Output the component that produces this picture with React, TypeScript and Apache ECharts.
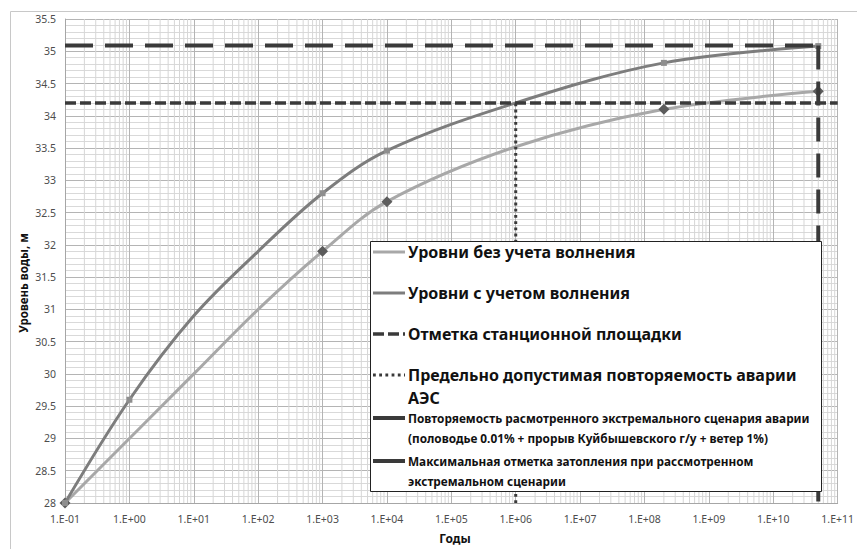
import React, { useEffect, useRef } from "react";
import * as echarts from "echarts";

// ---- data ----
// marked points (Excel markers) and a few unmarked points
const dryYears = [0.1, 10, 100, 1e3, 1e4, 1e6, 2e8, 5e10];
const dryLevels = [28, 30.0, 31.0, 31.9, 32.67, 33.52, 34.1, 34.38];
const dryMarked = [true, false, false, true, true, false, true, true];
const waveYears = [0.1, 1, 10, 100, 1e3, 1e4, 1e6, 2e8, 5e10];
const waveLevels = [28, 29.6, 30.9, 31.9, 32.8, 33.46, 34.2, 34.82, 35.08];
const waveMarked = [true, true, false, false, true, true, false, true, true];
const platformLevel = 34.2;
const maxFloodLevel = 35.09;
const allowedRecurrence = 1e6;
const scenarioRecurrence = 5e10;
const xMin = 0.1;
const xMax = 1e11;
const yMin = 28;
const yMax = 35.5;
const decadeStarts = [0.1, 1, 10, 100, 1e3, 1e4, 1e5, 1e6, 1e7, 1e8, 1e9, 1e10];
const minorMultipliers = [2, 3, 4, 5, 6, 7, 8, 9];

const legendLabels = [
  "Уровни без учета волнения",
  "Уровни с учетом волнения",
  "Отметка станционной площадки",
  "Предельно допустимая повторяемость аварии",
  "АЭС",
  "Повторяемость расмотренного экстремального сценария аварии",
  "(половодье 0.01% + прорыв Куйбышевского г/у + ветер 1%)",
  "Максимальная отметка затопления при рассмотренном",
  "экстремальном сценарии",
];

const FONT = "'Noto Sans', 'Open Sans', sans-serif";
const DARK = "#3a3a3a";

function fmtExp(v: number) {
  const e = Math.round(Math.log10(v));
  const s = e < 0 ? "-" : "+";
  const a = Math.abs(e);
  return "1.E" + s + (a < 10 ? "0" + a : "" + a);
}

export default function App() {
  const ref = useRef<HTMLDivElement>(null);
  useEffect(() => {
    if (!ref.current) return;
    const chart = echarts.init(ref.current, null, { renderer: "svg" });
    const minorX: number[][] = [];
    decadeStarts.forEach((d) =>
      minorMultipliers.forEach((m) => minorX.push([d * m, yMin]))
    );
    const lx = 373;
    const tx = 408;
    const Z = 100;
    const bigFont = { fontFamily: FONT, fontWeight: "bold", fontSize: 16, fill: "#111" };
    const smallFont = { fontFamily: FONT, fontWeight: "bold", fontSize: 11.8, fill: "#111" };
    const txt = (text: string, y: number, st: any) => ({
      type: "text",
      z: Z + 1,
      x: tx,
      y,
      style: { text, ...st, textVerticalAlign: "middle" },
    });
    const seg = (y: number, color: string, width: number, dash?: number[]) => ({
      type: "line",
      z: Z + 1,
      shape: { x1: lx, y1: y, x2: lx + 32, y2: y },
      style: { stroke: color, lineWidth: width, lineDash: dash },
    });
    const option: any = {
      animation: false,
      backgroundColor: "#ffffff",
      grid: { left: 65, right: 12, top: 19, bottom: 46 },
      xAxis: {
        type: "log",
        logBase: 10,
        min: xMin,
        max: xMax,
        interval: 1,
        axisLine: { show: true, lineStyle: { color: "#a6a6a6" } },
        axisTick: { show: false },
        axisLabel: {
          formatter: (v: number) => fmtExp(v),
          color: "#4d4d4d",
          fontFamily: FONT,
          fontSize: 10.5,
          margin: 10,
          showMaxLabel: true,
          showMinLabel: true,
        },
        splitLine: { show: true, lineStyle: { color: "#b4b4b4", width: 1 } },
      },
      yAxis: {
        type: "value",
        min: yMin,
        max: yMax,
        interval: 0.5,
        axisLine: { show: true, lineStyle: { color: "#a6a6a6" } },
        axisTick: { show: false },
        axisLabel: { color: "#4d4d4d", fontFamily: FONT, fontSize: 10.5, margin: 9 },
        splitLine: { show: true, lineStyle: { color: "#b4b4b4", width: 1 } },
        minorTick: { show: false, splitNumber: 5 },
        minorSplitLine: { show: true, lineStyle: { color: "#d9d9d9", width: 1 } },
      },
      series: [
        {
          type: "custom",
          silent: true,
          z: 1,
          data: minorX,
          renderItem: (params: any, api: any) => {
            const a = api.coord([api.value(0), yMin]);
            const b = api.coord([api.value(0), yMax]);
            return {
              type: "line",
              shape: { x1: a[0], y1: a[1], x2: b[0], y2: b[1] },
              style: { stroke: "#d6d6d6", lineWidth: 1 },
            };
          },
        },
        {
          name: "dry",
          type: "line",
          z: 3,
          smooth: 0.35,
          data: dryYears.map((x, i) => ({
            value: [x, dryLevels[i]],
            symbol: dryMarked[i] ? "diamond" : "none",
          })),
          lineStyle: { color: "#a8a8a8", width: 3 },
          symbol: "diamond",
          symbolSize: 11,
          itemStyle: { color: "#5c5c5c" },
        },
        {
          name: "wave",
          type: "line",
          z: 4,
          smooth: 0.35,
          data: waveYears.map((x, i) => ({
            value: [x, waveLevels[i]],
            symbol: waveMarked[i] ? "rect" : "none",
          })),
          lineStyle: { color: "#7d7d7d", width: 3 },
          symbol: "rect",
          symbolSize: 6,
          itemStyle: { color: "#8e8e8e" },
        },
        {
          name: "platform",
          type: "line",
          z: 5,
          symbol: "none",
          data: [
            [xMin, platformLevel],
            [xMax, platformLevel],
          ],
          lineStyle: { color: DARK, width: 3.5, type: [11, 4] },
        },
        {
          name: "allowed",
          type: "line",
          z: 5,
          symbol: "none",
          data: [
            [allowedRecurrence, yMin],
            [allowedRecurrence, platformLevel],
          ],
          lineStyle: { color: DARK, width: 3, type: [2.8, 3.4] },
        },
        {
          name: "maxflood",
          type: "line",
          z: 5,
          symbol: "none",
          data: [
            [xMin, maxFloodLevel],
            [scenarioRecurrence, maxFloodLevel],
          ],
          lineStyle: { color: DARK, width: 4, type: [28, 12] },
        },
        {
          name: "scenario",
          type: "line",
          z: 5,
          symbol: "none",
          data: [
            [scenarioRecurrence, maxFloodLevel],
            [scenarioRecurrence, yMin],
          ],
          lineStyle: { color: DARK, width: 4, type: [24, 12] },
        },
      ],
      graphic: [
        {
          type: "rect",
          z: 0,
          silent: true,
          shape: { x: 10.5, y: 11.5, width: 900, height: 600 },
          style: { fill: "none", stroke: "#c8c8c8", lineWidth: 1 },
        },
        {
          type: "rect",
          z: Z,
          shape: { x: 370.5, y: 241.5, width: 451, height: 250 },
          style: { fill: "#ffffff", stroke: "#222", lineWidth: 1 },
        },
        seg(252, "#a8a8a8", 3),
        seg(293, "#7d7d7d", 3),
        seg(334, DARK, 3.5, [11, 4]),
        seg(375, DARK, 3, [2.8, 3.4]),
        seg(418, DARK, 4),
        seg(461, DARK, 4),
        txt(legendLabels[0], 252, bigFont),
        txt(legendLabels[1], 293, bigFont),
        txt(legendLabels[2], 334, bigFont),
        txt(legendLabels[3], 375, bigFont),
        txt(legendLabels[4], 398, bigFont),
        txt(legendLabels[5], 418, smallFont),
        txt(legendLabels[6], 438, smallFont),
        txt(legendLabels[7], 461, smallFont),
        txt(legendLabels[8], 481, smallFont),
        {
          type: "text",
          x: 23,
          y: 283,
          rotation: Math.PI / 2,
          style: {
            text: "Уровень воды, м",
            fontFamily: FONT,
            fontWeight: "bold",
            fontSize: 11.5,
            fill: "#111",
            textAlign: "center",
            textVerticalAlign: "middle",
          },
        },
        {
          type: "text",
          x: 455,
          y: 538,
          style: {
            text: "Годы",
            fontFamily: FONT,
            fontWeight: "bold",
            fontSize: 12,
            fill: "#111",
            textAlign: "center",
            textVerticalAlign: "middle",
          },
        },
      ],
    };
    chart.setOption(option);
    return () => chart.dispose();
  }, []);
  return (
    <div
      ref={ref}
      style={{ position: "fixed", left: 0, top: 0, width: 857, height: 549 }}
    />
  );
}
